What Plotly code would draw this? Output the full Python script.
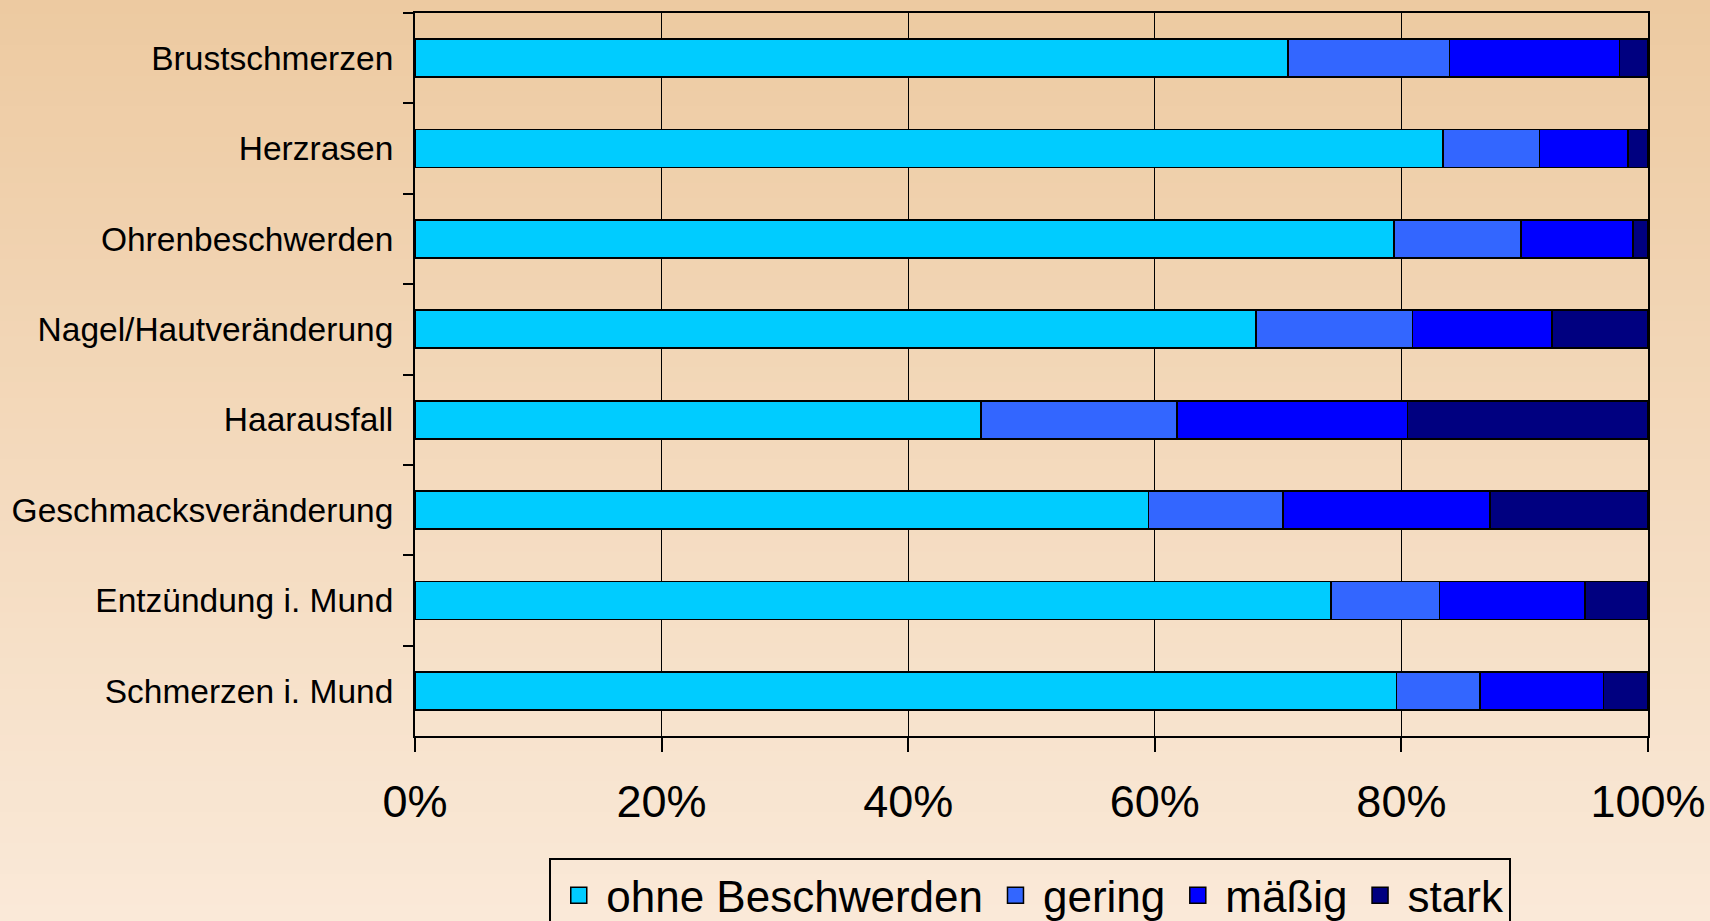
import plotly.graph_objects as go

# ---- data (top to bottom) ----
categories = ["Brustschmerzen", "Herzrasen", "Ohrenbeschwerden", "Nagel/Hautveränderung",
              "Haarausfall", "Geschmacksveränderung", "Entzündung i. Mund", "Schmerzen i. Mund"]
ohne = [70.8, 83.4, 79.4, 68.2, 45.9, 59.5, 74.3, 79.6]
gering = [13.1, 7.8, 10.3, 12.7, 15.9, 10.9, 8.8, 6.8]
maessig = [13.8, 7.2, 9.1, 11.3, 18.7, 16.8, 11.8, 10.0]
stark = [2.3, 1.6, 1.2, 7.8, 19.5, 12.8, 5.1, 3.6]
series_names = ["ohne Beschwerden", "gering", "mäßig", "stark"]
series_values = [ohne, gering, maessig, stark]
series_colors = ["#00CCFF", "#3366FF", "#0000FF", "#000080"]
tick_vals = [0, 20, 40, 60, 80, 100]
tick_text = ["0%", "20%", "40%", "60%", "80%", "100%"]

FONT = "Arial, 'Liberation Sans', sans-serif"
W, H = 1710, 921
ML, MR, MT, MB = 415, 62, 13, 185

fig = go.Figure()
for name, vals, col in zip(series_names, series_values, series_colors):
    fig.add_trace(go.Bar(
        x=vals, y=categories, orientation="h", name=name,
        marker=dict(color=col, line=dict(color="black", width=1.7)),
        showlegend=False, hoverinfo="x+y+name"))
for name, col in zip(series_names, series_colors):
    fig.add_trace(go.Scatter(
        x=[None], y=[None], mode="markers", name=name,
        marker=dict(symbol="square", size=16, color=col, line=dict(color="black", width=1.5)),
        showlegend=True, hoverinfo="skip"))

# vertical gradient background
top = (237, 202, 161)
bot = (250, 233, 216)
n = 60
PH = H - MT - MB
shapes = []
for i in range(n):
    t = i / (n - 1)
    c = tuple(round(top[k] + (bot[k] - top[k]) * t) for k in range(3))
    y1 = 1 - i / n
    y0 = 1 - (i + 1) / n
    shapes.append(dict(type="rect", xref="paper", yref="paper", layer="below",
                       x0=-1, x1=2,
                       y0=-MB / PH + y0 * H / PH,
                       y1=-MB / PH + y1 * H / PH + 0.002,
                       fillcolor="rgb(%d,%d,%d)" % c, line=dict(width=0)))

fig.update_layout(
    template="none",
    width=W, height=H,
    margin=dict(l=ML, r=MR, t=MT, b=MB, autoexpand=False),
    paper_bgcolor="rgb(%d,%d,%d)" % bot,
    plot_bgcolor="rgba(0,0,0,0)",
    barmode="stack",
    bargap=0.58,
    shapes=shapes,
    font=dict(family=FONT, color="black"),
    showlegend=True,
    legend=dict(orientation="h", x=0.499, xanchor="center", y=-0.169, yanchor="top",
                bgcolor="rgba(0,0,0,0)", bordercolor="black", borderwidth=2,
                font=dict(size=44, family=FONT), itemsizing="trace", tracegroupgap=0,
                traceorder="normal", itemwidth=45),
    xaxis=dict(type="linear", range=[0, 100], tickvals=tick_vals, ticktext=tick_text,
               showgrid=True, gridcolor="black", gridwidth=1, zeroline=False,
               showline=True, linecolor="black", linewidth=2, mirror=True,
               ticks="outside", ticklen=14, tickwidth=1.5, tickcolor="black",
               tickfont=dict(size=45, family=FONT), ticklabelstandoff=11),
    yaxis=dict(type="category", categoryorder="array", categoryarray=categories,
               autorange="reversed", showgrid=False, zeroline=False,
               showline=True, linecolor="black", linewidth=2, mirror=True,
               ticks="outside", tickson="boundaries", ticklen=10, tickwidth=1.5, tickcolor="black",
               tickfont=dict(size=33.5, family=FONT), ticklabelstandoff=13),
)

fig.write_html("out.html", config={"displayModeBar": False},
               post_script="document.body.style.margin='0';document.body.style.overflow='hidden';")
